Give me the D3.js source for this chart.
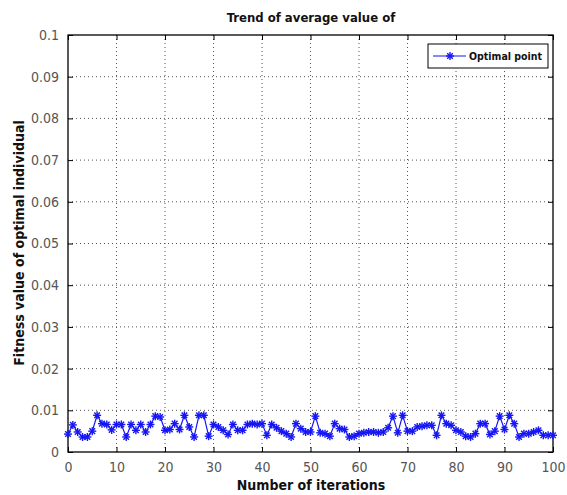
<!DOCTYPE html>
<html>
<head>
<meta charset="utf-8">
<script src="https://cdn.jsdelivr.net/npm/d3@7"></script>
<style>
  html, body { margin: 0; padding: 0; background: #fff; }
  svg { display: block; }
</style>
</head>
<body>
<svg id="chart" width="567" height="495"></svg>
<script>
// ---- data ----
const iterations = d3.range(0, 101);
const fitness = [
  0.0043, 0.0065, 0.0048, 0.0036, 0.0036, 0.0050, 0.0088, 0.0068, 0.0066, 0.0053,
  0.0066, 0.0066, 0.0036, 0.0066, 0.0052, 0.0066, 0.0048, 0.0066, 0.0086, 0.0084,
  0.0052, 0.0054, 0.0068, 0.0054, 0.0088, 0.0060, 0.0036, 0.0088, 0.0088, 0.0038,
  0.0066, 0.0060, 0.0052, 0.0042, 0.0066, 0.0052, 0.0052, 0.0066, 0.0068, 0.0066,
  0.0068, 0.0040, 0.0066, 0.0058, 0.0050, 0.0044, 0.0036, 0.0068, 0.0056, 0.0048,
  0.0048, 0.0086, 0.0046, 0.0044, 0.0038, 0.0068, 0.0056, 0.0054, 0.0036, 0.0038,
  0.0044, 0.0046, 0.0048, 0.0048, 0.0046, 0.0048, 0.0058, 0.0086, 0.0046, 0.0088,
  0.0050, 0.0050, 0.0060, 0.0062, 0.0064, 0.0064, 0.0040, 0.0088, 0.0068, 0.0064,
  0.0052, 0.0048, 0.0038, 0.0036, 0.0044, 0.0068, 0.0068, 0.0042, 0.0050, 0.0086,
  0.0054, 0.0088, 0.0068, 0.0036, 0.0044, 0.0044, 0.0048, 0.0052, 0.0040, 0.0040,
  0.0040
];
const xTicks = [0, 10, 20, 30, 40, 50, 60, 70, 80, 90, 100];
const yTicks = [0, 0.01, 0.02, 0.03, 0.04, 0.05, 0.06, 0.07, 0.08, 0.09, 0.1];
const yTickLabels = ["0", "0.01", "0.02", "0.03", "0.04", "0.05", "0.06", "0.07", "0.08", "0.09", "0.1"];
const titleText = "Trend of average value of";
const xLabel = "Number of iterations";
const yLabel = "Fitness value of optimal individual";
const seriesName = "Optimal point";

// ---- layout ----
const svg = d3.select("#chart");
const L = 68, R = 553, T = 35, B = 452;
const x = d3.scaleLinear().domain([0, 100]).range([L, R]);
const y = d3.scaleLinear().domain([0, 0.1]).range([B, T]);
const font = "'DejaVu Sans Condensed', 'Liberation Sans Narrow', Arial, sans-serif";
const blue = "#1515f5";

// grid
const grid = svg.append("g");
grid.selectAll("line.gx").data(xTicks.slice(1, -1)).enter().append("line")
  .attr("x1", d => x(d)).attr("x2", d => x(d)).attr("y1", T).attr("y2", B)
  .attr("stroke", "#555").attr("stroke-width", 1).attr("stroke-dasharray", "1,3");
grid.selectAll("line.gy").data(yTicks.slice(1, -1)).enter().append("line")
  .attr("x1", L).attr("x2", R).attr("y1", d => y(d)).attr("y2", d => y(d))
  .attr("stroke", "#555").attr("stroke-width", 1).attr("stroke-dasharray", "1,3");

// axes (ticks inside, labels outside)
const xAxis = d3.axisBottom(x).tickValues(xTicks).tickSize(-5).tickPadding(10).tickFormat(d3.format("d"));
const gx = svg.append("g").attr("transform", `translate(0,${B})`).call(xAxis);
const yAxis = d3.axisLeft(y).tickValues(yTicks).tickSize(-5).tickPadding(9)
  .tickFormat((d, i) => yTickLabels[i]);
const gy = svg.append("g").attr("transform", `translate(${L},0)`).call(yAxis);
const xAxisTop = d3.axisTop(x).tickValues(xTicks).tickSize(-5).tickFormat("");
svg.append("g").attr("transform", `translate(0,${T})`).call(xAxisTop);
const yAxisRight = d3.axisRight(y).tickValues(yTicks).tickSize(-5).tickFormat("");
svg.append("g").attr("transform", `translate(${R},0)`).call(yAxisRight);

svg.selectAll(".domain").remove();
svg.selectAll(".tick line").attr("stroke", "#000");
[gx, gy].forEach(g => g.selectAll(".tick text")
  .attr("font-family", font).attr("font-size", 14).attr("fill", "#555"));

// box
svg.append("rect").attr("x", L).attr("y", T).attr("width", R - L).attr("height", B - T)
  .attr("fill", "none").attr("stroke", "#000").attr("stroke-width", 1.3);

// series line
const pts = iterations.map((it, i) => [it, fitness[i]]);
svg.append("path").datum(pts)
  .attr("d", d3.line().x(d => x(d[0])).y(d => y(d[1])))
  .attr("fill", "none").attr("stroke", blue).attr("stroke-width", 1.2);

// star markers
function star(g, cx, cy, r) {
  const s = g.append("g").attr("transform", `translate(${cx},${cy})`)
    .attr("stroke", blue).attr("stroke-width", 1.4);
  s.append("line").attr("x1", -r).attr("x2", r).attr("y1", 0).attr("y2", 0);
  s.append("line").attr("x1", 0).attr("x2", 0).attr("y1", -r).attr("y2", r);
  const q = r * 0.7;
  s.append("line").attr("x1", -q).attr("x2", q).attr("y1", -q).attr("y2", q);
  s.append("line").attr("x1", -q).attr("x2", q).attr("y1", q).attr("y2", -q);
}
const mk = svg.append("g");
pts.forEach(d => star(mk, x(d[0]), y(d[1]), 4));

// legend
const lg = svg.append("g");
lg.append("rect").attr("x", 428).attr("y", 44).attr("width", 120).attr("height", 24)
  .attr("fill", "#fff").attr("stroke", "#000").attr("stroke-width", 1);
lg.append("line").attr("x1", 433).attr("x2", 466).attr("y1", 56).attr("y2", 56)
  .attr("stroke", blue).attr("stroke-width", 1.2);
star(lg, 450, 56, 4);
lg.append("text").attr("x", 469).attr("y", 60).text(seriesName)
  .attr("font-family", font).attr("font-size", 10.5).attr("font-weight", "bold").attr("fill", "#111");

// titles
svg.append("text").attr("x", 311).attr("y", 22).attr("text-anchor", "middle").text(titleText)
  .attr("font-family", font).attr("font-size", 13).attr("font-weight", "bold").attr("fill", "#111");
svg.append("text").attr("x", 311).attr("y", 490).attr("text-anchor", "middle").text(xLabel)
  .attr("font-family", font).attr("font-size", 14).attr("font-weight", "bold").attr("fill", "#111");
svg.append("text").attr("transform", "translate(24,243) rotate(-90)").attr("text-anchor", "middle").text(yLabel)
  .attr("font-family", font).attr("font-size", 14).attr("font-weight", "bold").attr("fill", "#111");
</script>
</body>
</html>
